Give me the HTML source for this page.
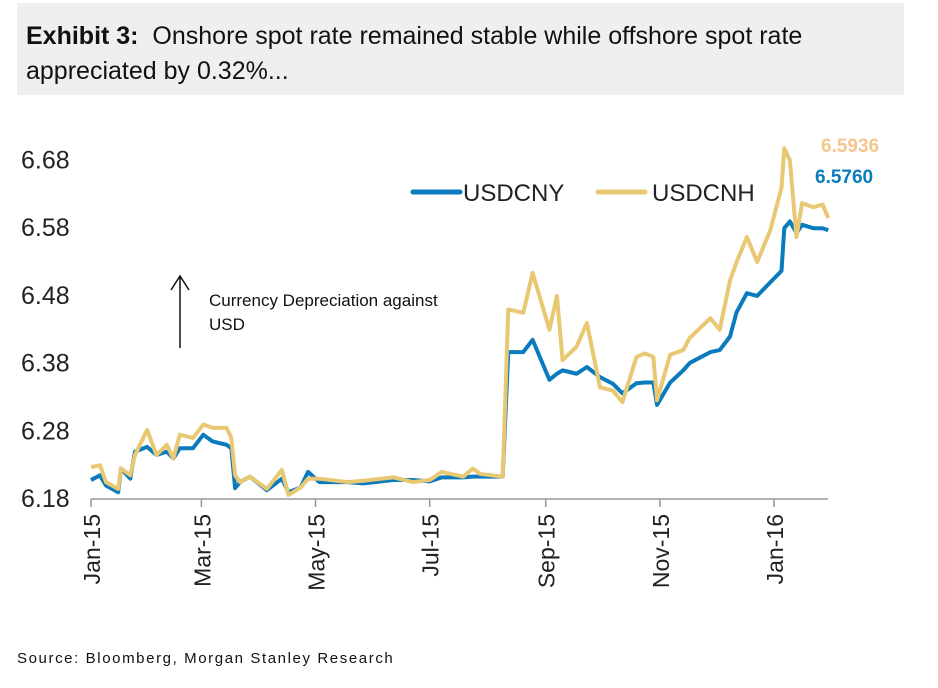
<!DOCTYPE html>
<html><head><meta charset="utf-8"><style>
body{margin:0;background:#fff;width:938px;height:688px;overflow:hidden;font-family:"Liberation Sans",Arial,sans-serif}
#title{position:absolute;left:17px;top:3px;width:887px;height:92px;background:#efefef}
#title div{position:absolute;left:9px;top:16px;font-size:25px;line-height:35px;color:#111;white-space:nowrap}
#src{position:absolute;left:17px;top:650px;font-size:15px;letter-spacing:1.6px;color:#111}
</style></head><body>
<div id="title"><div><b>Exhibit 3:</b>&nbsp; Onshore spot rate remained stable while offshore spot rate<br>appreciated by 0.32%...</div></div>
<svg id="chart" width="938" height="688" style="position:absolute;left:0;top:0"></svg>
<div id="src">Source: Bloomberg, Morgan Stanley Research</div>
<script>
const days=[0,4.8,8,14.5,16,21,23.5,30,35,40.5,44,47.5,54.5,60,65,72.5,75,77,79.6,85,94,102,105.5,112,116,122,137,145.5,161.5,172,181,187.5,199,204,208,220,223,231,236,245,249,252,259.5,265,272,279,284,291.5,296,300.5,302.5,309.5,316.5,320,331,336,341.5,345,350.5,356,363,369,370.5,373.5,377,380,386,391,394];
const cny=[6.208,6.215,6.20,6.19,6.225,6.21,6.25,6.257,6.245,6.25,6.24,6.255,6.255,6.275,6.265,6.26,6.255,6.196,6.205,6.213,6.193,6.21,6.19,6.197,6.22,6.205,6.205,6.203,6.208,6.208,6.206,6.212,6.212,6.213,6.213,6.213,6.397,6.397,6.415,6.356,6.365,6.37,6.365,6.375,6.36,6.35,6.336,6.351,6.352,6.352,6.319,6.352,6.37,6.381,6.397,6.40,6.42,6.456,6.484,6.48,6.50,6.517,6.58,6.59,6.573,6.585,6.58,6.58,6.577];
const cnh=[6.227,6.23,6.205,6.195,6.225,6.215,6.245,6.282,6.245,6.26,6.24,6.275,6.27,6.29,6.285,6.285,6.27,6.215,6.205,6.213,6.195,6.223,6.186,6.197,6.21,6.21,6.205,6.207,6.212,6.205,6.208,6.22,6.213,6.225,6.217,6.213,6.46,6.455,6.514,6.43,6.48,6.385,6.405,6.44,6.345,6.34,6.323,6.39,6.395,6.39,6.326,6.393,6.40,6.418,6.447,6.43,6.503,6.53,6.567,6.53,6.577,6.64,6.698,6.68,6.567,6.617,6.611,6.615,6.595];
const yTicks=[6.18,6.28,6.38,6.48,6.58,6.68];
const xLabels=["Jan-15","Mar-15","May-15","Jul-15","Sep-15","Nov-15","Jan-16"];
const xTickDays=[0,59,120,181,243,304,365];
const NS="http://www.w3.org/2000/svg";
const svg=document.getElementById('chart');
const X=d=>91+d*(774-91)/365;
const Y=v=>499-(v-6.18)*677;
function mk(t,a,txt){const e=document.createElementNS(NS,t);for(const k in a)e.setAttribute(k,a[k]);if(txt!==undefined)e.textContent=txt;svg.appendChild(e);return e;}
yTicks.forEach(v=>{const t=mk('text',{x:21,y:Y(v)+8,'font-size':25,fill:'#222'},v.toFixed(2));

});
const ax=mk('line',{x1:91,y1:499,x2:828,y2:499,stroke:'#999','stroke-width':1.5});


xTickDays.forEach((d,i)=>{const tk=mk('line',{x1:X(d),y1:499,x2:X(d),y2:507,stroke:'#999','stroke-width':1.5});


const t=mk('text',{x:0,y:0,'font-size':23,fill:'#222','text-anchor':'end',transform:`translate(${X(d)+9},514) rotate(-90)`},xLabels[i]);

});
function line(vals,color,name){const p=mk('polyline',{points:vals.map((v,i)=>X(days[i])+','+Y(v)).join(' '),fill:'none',stroke:color,'stroke-width':4,'stroke-linejoin':'round'});

}
line(cny,'#0a7bbd','usdcny-line');
line(cnh,'#e8c872','usdcnh-line');
const l1=mk('line',{x1:413,y1:192,x2:460,y2:192,stroke:'#0a7bbd','stroke-width':5,'stroke-linecap':'round'});


const t1=mk('text',{x:463,y:201,'font-size':24,fill:'#222'},'USDCNY');


const l2=mk('line',{x1:598,y1:192,x2:645,y2:192,stroke:'#e8c872','stroke-width':5,'stroke-linecap':'round'});


const t2=mk('text',{x:652,y:201,'font-size':24,fill:'#222'},'USDCNH');


const a1=mk('text',{x:821,y:152,'font-size':19,'font-weight':'bold',fill:'#f5c68e'},'6.5936');


const a2=mk('text',{x:815,y:183,'font-size':19,'font-weight':'bold',fill:'#0a7bbd'},'6.5760');


const ar=mk('path',{d:'M180,348 L180,276 M171,290 L180,276 L189,290',stroke:'#111','stroke-width':1.5,fill:'none'});


const n1=mk('text',{x:209,y:306,'font-size':17,fill:'#111'},'Currency Depreciation against');


const n2=mk('text',{x:209,y:330,'font-size':17,fill:'#111'},'USD');


</script>
</body></html>
